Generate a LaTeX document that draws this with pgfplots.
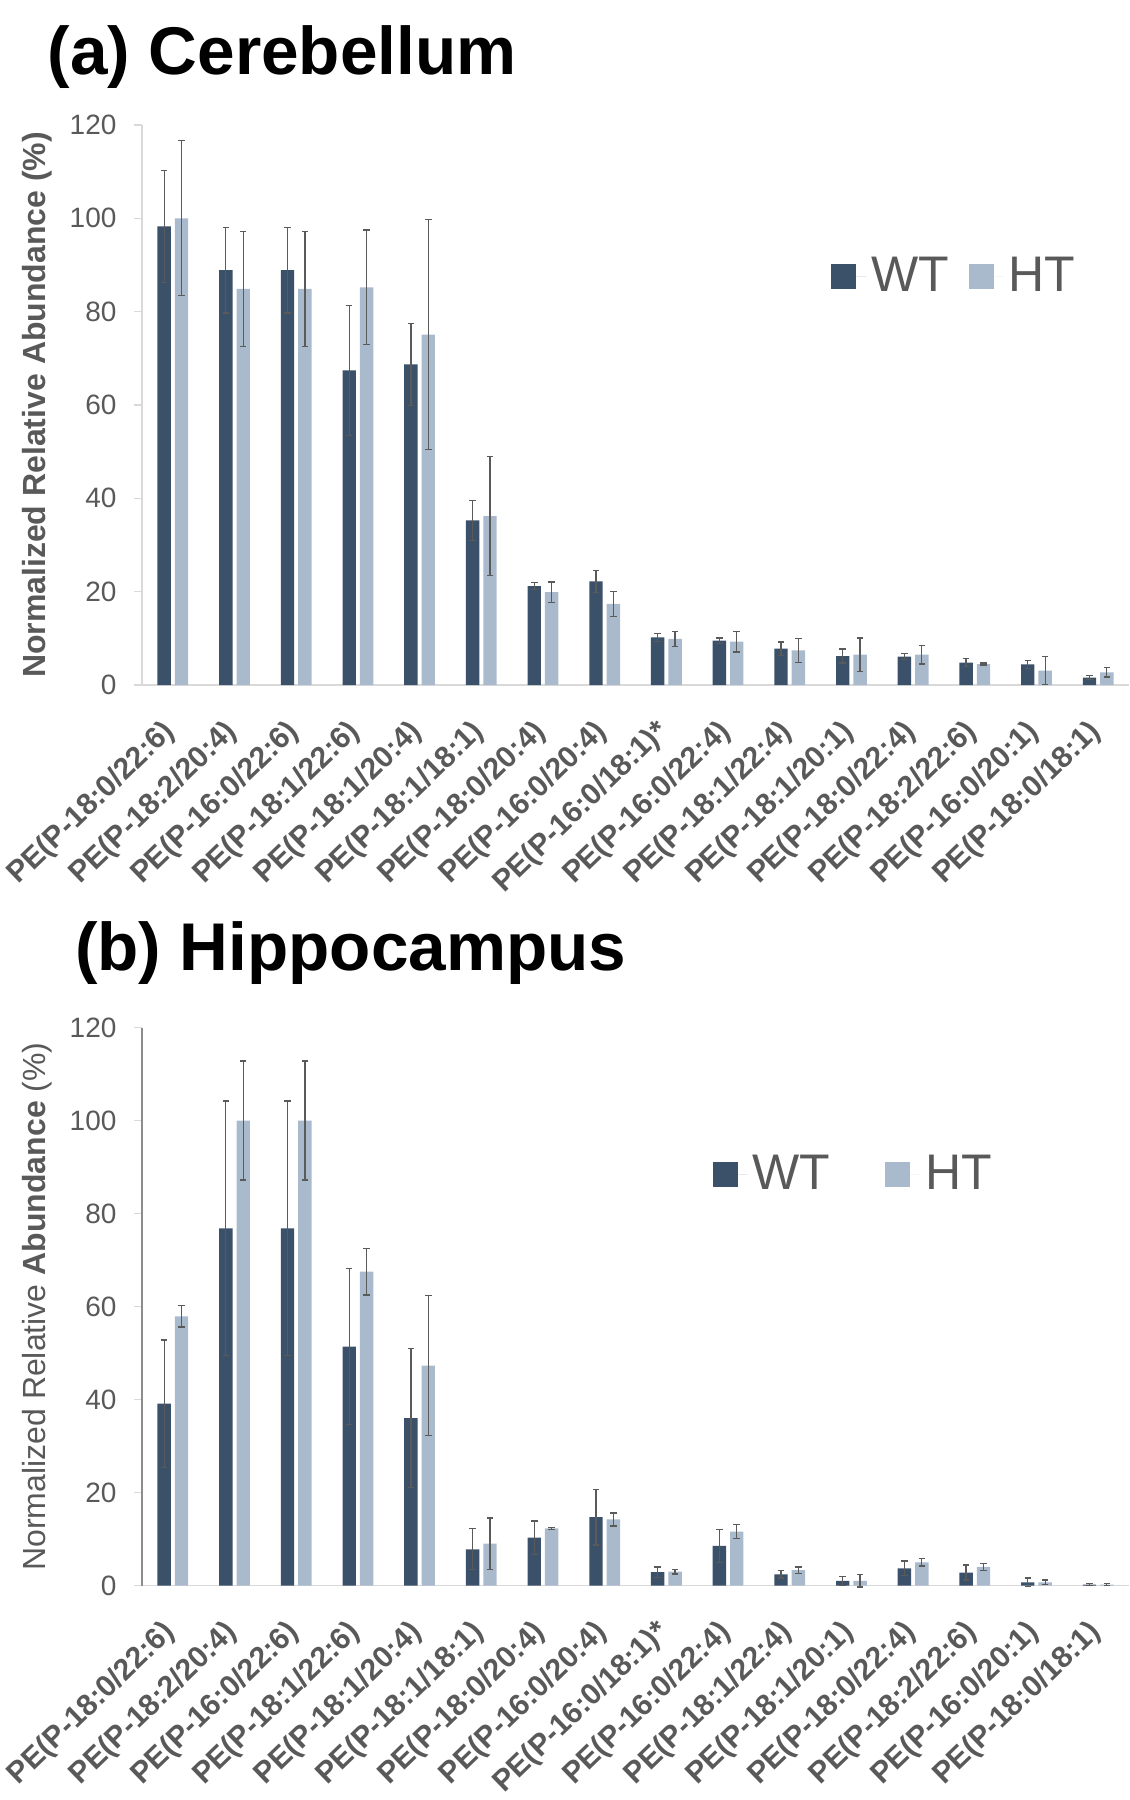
\documentclass[border=0pt]{standalone}
\usepackage{fontspec}
\setmainfont{Liberation Sans}
\usepackage{pgfplots}
\usepackage{pgfplotstable}
\pgfplotsset{compat=1.18}

\definecolor{wtcol}{HTML}{3B5069}
\definecolor{htcol}{HTML}{AABACD}
\definecolor{txtgray}{HTML}{595959}
\definecolor{axgray}{HTML}{D9D9D9}
\definecolor{errgray}{HTML}{5A5A5A}

% (a) Cerebellum: mean and error for WT and HT
\pgfplotstableread{
x  wt    wte   ht     hte
0  98.3  12.0  100.0  16.6
1  88.9  9.2   84.9   12.3
2  88.9  9.2   84.9   12.3
3  67.4  13.9  85.2   12.3
4  68.7  8.8   75.1   24.7
5  35.3  4.3   36.2   12.7
6  21.2  0.7   19.9   2.2
7  22.2  2.4   17.4   2.7
8  10.2  0.8   9.9    1.6
9  9.5   0.6   9.3    2.2
10 7.8   1.4   7.4    2.5
11 6.2   1.5   6.5    3.6
12 6.1   0.7   6.5    2.0
13 4.8   0.9   4.5    0.2
14 4.4   0.9   3.1    3.0
15 1.6   0.4   2.7    1.0
}\cerebellum

% (b) Hippocampus
\pgfplotstableread{
x  wt    wte   ht     hte
0  39.1  13.7  57.9   2.3
1  76.8  27.4  100.0  12.8
2  76.8  27.4  100.0  12.8
3  51.4  16.8  67.5   5.0
4  36.0  15.0  47.3   15.1
5  7.8   4.4   9.0    5.5
6  10.3  3.6   12.3   0.2
7  14.7  6.0   14.2   1.4
8  2.9   1.1   3.0    0.5
9  8.5   3.5   11.6   1.5
10 2.4   0.8   3.3    0.7
11 1.0   1.0   1.0    1.3
12 3.7   1.6   5.0    0.8
13 2.8   1.6   4.0    0.7
14 0.7   0.9   0.7    0.5
15 0.2   0.2   0.2    0.2
}\hippocampus

\pgfplotsset{
  pebars/.style={
    scale only axis, width=394.8pt,
    ybar, bar width=5.36pt,
    ymin=0, ymax=120, ytick={0,20,...,120},
    xmin=-0.5, xmax=15.5,
    xtick={0,...,15},
    xticklabels={PE(P-18:0/22:6),PE(P-18:2/20:4),PE(P-16:0/22:6),PE(P-18:1/22:6),
      PE(P-18:1/20:4),PE(P-18:1/18:1),PE(P-18:0/20:4),PE(P-16:0/20:4),
      PE(P-16:0/18:1)*,PE(P-16:0/22:4),PE(P-18:1/22:4),PE(P-18:1/20:1),
      PE(P-18:0/22:4),PE(P-18:2/22:6),PE(P-16:0/20:1),PE(P-18:0/18:1)},
    axis x line*=bottom, axis y line*=left,
    x axis line style={draw=axgray, line width=0.7pt, -},
    xtick style={draw=none},
    ytick style={draw=axgray, line width=0.5pt},
    tick align=outside, major tick length=3.2pt,
    /pgf/number format/assume math mode=true,
    yticklabel style={font=\fontsize{11.2}{13}\selectfont, text=txtgray, xshift=-3.5pt},
    xticklabel style={font=\bfseries\fontsize{12}{14}\selectfont, text=txtgray,
      rotate=44, anchor=east, inner sep=1pt},
    xticklabel shift=13pt,
    ylabel style={at={(rel axis cs:-0.106,0.5)}, anchor=center,
      font=\fontsize{12.8}{15}\selectfont, text=txtgray},
    legend style={draw=none, fill=none, anchor=west, legend columns=2,
      font=\fontsize{20}{24}\selectfont, text=txtgray},
    legend image code/.code={\path (0pt,0pt) -- (14pt,0pt);
      \fill[##1] (0pt,-5pt) rectangle (10pt,5pt);},
    clip=false,
  },
  wtplot/.style={fill=wtcol, draw=none, bar shift=-3.48pt},
  htplot/.style={fill=htcol, draw=none, bar shift=3.48pt},
  errs/.style={error bars/.cd, y dir=both, y explicit,
    error bar style={line width=0.5pt, draw=errgray},
    error mark options={rotate=90, mark size=1.3pt, line width=0.5pt, draw=errgray}},
}

\begin{document}
\begin{tikzpicture}
\useasboundingbox (0,0) rectangle (452pt,-720pt);

\node[anchor=base west, font=\bfseries\fontsize{27}{30}\selectfont] at (15.5pt,-29.6pt) {(a) Cerebellum};
\node[anchor=base west, font=\bfseries\fontsize{27}{30}\selectfont] at (26.5pt,-388pt) {(b) Hippocampus};

\begin{axis}[pebars, height=224pt,
    at={(56.8pt,-274pt)}, anchor=south west,
    y axis line style={draw=axgray, line width=0.7pt, -},
    ylabel={\bfseries Normalized Relative Abundance (\%)},
    legend style={at={(0.69,0.73)}, /tikz/every even column/.append style={column sep=6pt}},
  ]
  \addplot[wtplot, errs] table[x=x, y=wt, y error=wte] {\cerebellum};
  \addplot[htplot, errs] table[x=x, y=ht, y error=hte] {\cerebellum};
  \legend{WT,HT}
\end{axis}

\begin{axis}[pebars, height=223.2pt,
    at={(56.8pt,-634.2pt)}, anchor=south west,
    y axis line style={draw=black!45, line width=0.6pt, -},
    ylabel={Normalized Relative \textbf{Abundance} (\%)},
    legend style={at={(0.57,0.737)}, /tikz/every even column/.append style={column sep=20pt}},
  ]
  \addplot[wtplot, errs] table[x=x, y=wt, y error=wte] {\hippocampus};
  \addplot[htplot, errs] table[x=x, y=ht, y error=hte] {\hippocampus};
  \legend{WT,HT}
\end{axis}
\end{tikzpicture}
\end{document}
